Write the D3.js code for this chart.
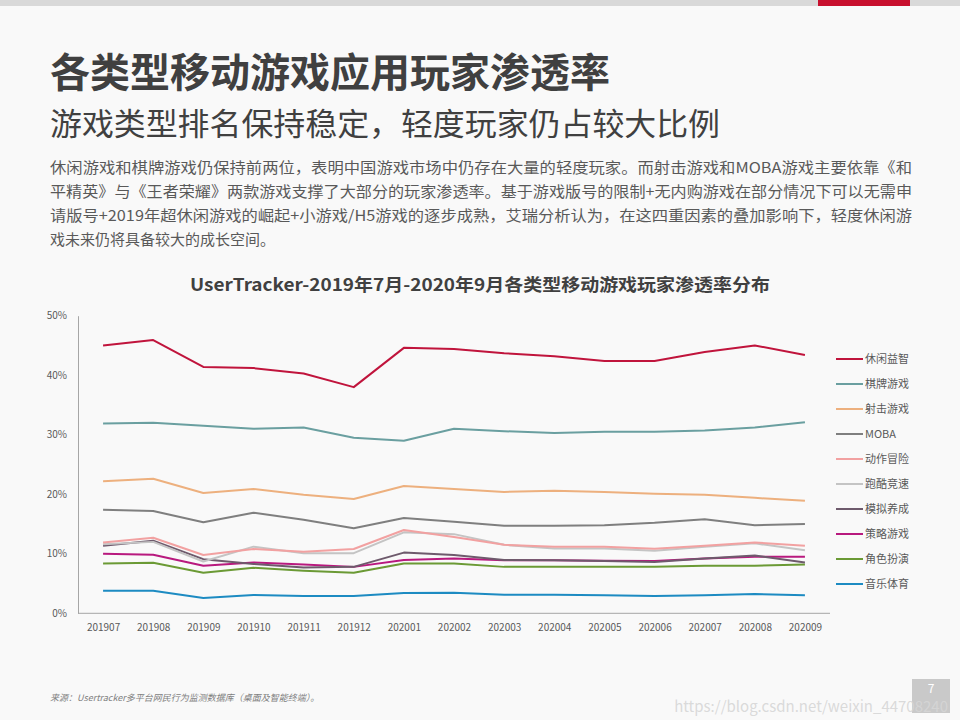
<!DOCTYPE html>
<html>
<head>
<meta charset="utf-8">
<script src="https://cdn.jsdelivr.net/npm/d3@7/dist/d3.min.js"></script>
<style>
html,body{margin:0;padding:0;background:#f9f9f9;}
svg{display:block;}
text{font-family:"Noto Sans CJK SC","Noto Sans",sans-serif;}
</style>
</head>
<body>
<svg id="chart" width="960" height="720"></svg>
<script>
const months = ["201907","201908","201909","201910","201911","201912","202001","202002","202003","202004","202005","202006","202007","202008","202009"];
const seriesNames = ["休闲益智","棋牌游戏","射击游戏","MOBA","动作冒险","跑酷竞速","模拟养成","策略游戏","角色扮演","音乐体育"];
const seriesColors = ["#c0143c","#6a9fa0","#edb07e","#7f7f7f","#f2a1a1","#c4c4c4","#6e5a6c","#b8197e","#6b9a35","#1d8bc2"];
const casual   = [45.0,45.9,41.4,41.2,40.3,38.0,44.6,44.4,43.7,43.2,42.4,42.4,43.9,45.0,43.4];
const board    = [31.9,32.0,31.5,31.0,31.2,29.5,29.0,31.0,30.6,30.3,30.5,30.5,30.7,31.2,32.1];
const shooter  = [22.2,22.6,20.2,20.9,19.9,19.2,21.4,20.9,20.4,20.6,20.4,20.1,19.9,19.4,18.9];
const moba     = [17.4,17.2,15.3,16.9,15.7,14.3,16.0,15.4,14.7,14.7,14.8,15.2,15.8,14.8,15.0];
const action   = [11.9,12.7,9.8,10.8,10.35,10.8,14.0,12.8,11.5,11.2,11.2,10.85,11.35,11.9,11.35];
const racing   = [11.6,12.0,8.7,11.2,10.1,10.1,13.6,13.3,11.5,10.9,10.9,10.5,11.2,11.75,10.6];
const simul    = [11.35,12.2,9.1,8.3,7.7,7.8,10.2,9.8,8.95,8.9,8.8,8.6,9.2,9.7,8.55];
const strategy = [10.0,9.85,8.0,8.55,8.2,7.8,8.95,9.2,8.9,8.9,8.85,8.8,9.2,9.5,9.5];
const rpg      = [8.35,8.5,6.8,7.65,7.15,6.8,8.35,8.35,7.8,7.8,7.8,7.8,8.0,8.0,8.2];
const music    = [3.8,3.8,2.57,3.07,2.9,2.9,3.4,3.45,3.1,3.1,3.05,2.9,3.05,3.25,3.05];
const yTicks = [0,10,20,30,40,50];

const title = "各类型移动游戏应用玩家渗透率";
const subtitle = "游戏类型排名保持稳定，轻度玩家仍占较大比例";
const bodyLines = [
  "休闲游戏和棋牌游戏仍保持前两位，表明中国游戏市场中仍存在大量的轻度玩家。而射击游戏和MOBA游戏主要依靠《和",
  "平精英》与《王者荣耀》两款游戏支撑了大部分的玩家渗透率。基于游戏版号的限制+无内购游戏在部分情况下可以无需申",
  "请版号+2019年超休闲游戏的崛起+小游戏/H5游戏的逐步成熟，艾瑞分析认为，在这四重因素的叠加影响下，轻度休闲游",
  "戏未来仍将具备较大的成长空间。"
];
const chartTitle = "UserTracker-2019年7月-2020年9月各类型移动游戏玩家渗透率分布";
const sourceText = "来源：Usertracker多平台网民行为监测数据库（桌面及智能终端）。";
const watermark = "https://blog.csdn.net/weixin_44708240";
const pageNum = "7";

const allSeries = [casual,board,shooter,moba,action,racing,simul,strategy,rpg,music];

const svg = d3.select("#chart");
svg.append("rect").attr("width",960).attr("height",720).attr("fill","#f9f9f9");

// top bar
svg.append("rect").attr("x",0).attr("y",0).attr("width",960).attr("height",6).attr("fill","#d9d9d9");
svg.append("rect").attr("x",818).attr("y",0).attr("width",92).attr("height",6).attr("fill","#c8102e");

// titles
svg.append("text").attr("x",50).attr("y",87).attr("font-size",40).attr("font-weight",700)
  .attr("fill","#404040").attr("textLength",560).attr("lengthAdjust","spacingAndGlyphs").text(title);
svg.append("text").attr("x",50).attr("y",135).attr("font-size",31)
  .attr("fill","#404040").attr("textLength",670).attr("lengthAdjust","spacingAndGlyphs").text(subtitle);

// body
bodyLines.forEach((l,i)=>{
  const t = svg.append("text").attr("x",50).attr("y",173+i*24).attr("font-size",15)
    .attr("fill","#595959").text(l);
  if(i<3) t.attr("textLength",862).attr("lengthAdjust","spacingAndGlyphs");
});

// chart title
svg.append("text").attr("x",480).attr("y",291).attr("text-anchor","middle")
  .attr("font-size",17).attr("font-weight",700).attr("fill","#404040")
  .attr("textLength",580).attr("lengthAdjust","spacingAndGlyphs").text(chartTitle);

// scales
const x = d3.scalePoint().domain(months).range([78,830]).padding(0.5);
const y = d3.scaleLinear().domain([0,50]).range([613.3,315.7]);

// axes
const yAxis = d3.axisLeft(y).tickValues(yTicks).tickSize(0).tickPadding(11).tickFormat(d=>d+"%");
const gy = svg.append("g").attr("transform","translate(78,0)").call(yAxis);
gy.select(".domain").attr("stroke","#a6a6a6");
gy.selectAll("text").attr("font-size",10).attr("fill","#595959").attr("font-family","'Open Sans','Noto Sans',sans-serif");

const xAxis = d3.axisBottom(x).tickSize(0).tickPadding(11);
const gx = svg.append("g").attr("transform","translate(0,613.3)").call(xAxis);
gx.select(".domain").attr("stroke","#a6a6a6").attr("d","M78,0H830");
gx.selectAll("text").attr("font-size",10).attr("fill","#595959").attr("font-family","'Open Sans','Noto Sans',sans-serif");

// lines
const line = d3.line().x((d,i)=>x(months[i])).y(d=>y(d));
for(let s=allSeries.length-1;s>=0;s--){
  svg.append("path").datum(allSeries[s]).attr("d",line).attr("fill","none")
    .attr("stroke",seriesColors[s]).attr("stroke-width",2).attr("stroke-linejoin","round");
}

// legend
const lg = svg.append("g");
seriesNames.forEach((n,i)=>{
  const yy = 359 + i*25;
  lg.append("line").attr("x1",836).attr("x2",863).attr("y1",yy).attr("y2",yy)
    .attr("stroke",seriesColors[i]).attr("stroke-width",2);
  lg.append("text").attr("x",865).attr("y",yy+4).attr("font-size",11).attr("fill","#595959").text(n);
});

// source
svg.append("text").attr("x",50).attr("y",701).attr("font-size",9).attr("font-style","italic")
  .attr("fill","#7f7f7f").text(sourceText);

// page number box
svg.append("rect").attr("x",912).attr("y",679).attr("width",38).attr("height",34).attr("fill","#c9c9c9");
svg.append("text").attr("x",931).attr("y",693).attr("text-anchor","middle").attr("font-size",12)
  .attr("fill","#ffffff").text(pageNum);

// watermark
svg.append("text").attr("x",948).attr("y",712).attr("text-anchor","end").attr("font-size",15)
  .attr("fill","#d6d6d6").attr("fill-opacity",0.9).text(watermark);
</script>
</body>
</html>
